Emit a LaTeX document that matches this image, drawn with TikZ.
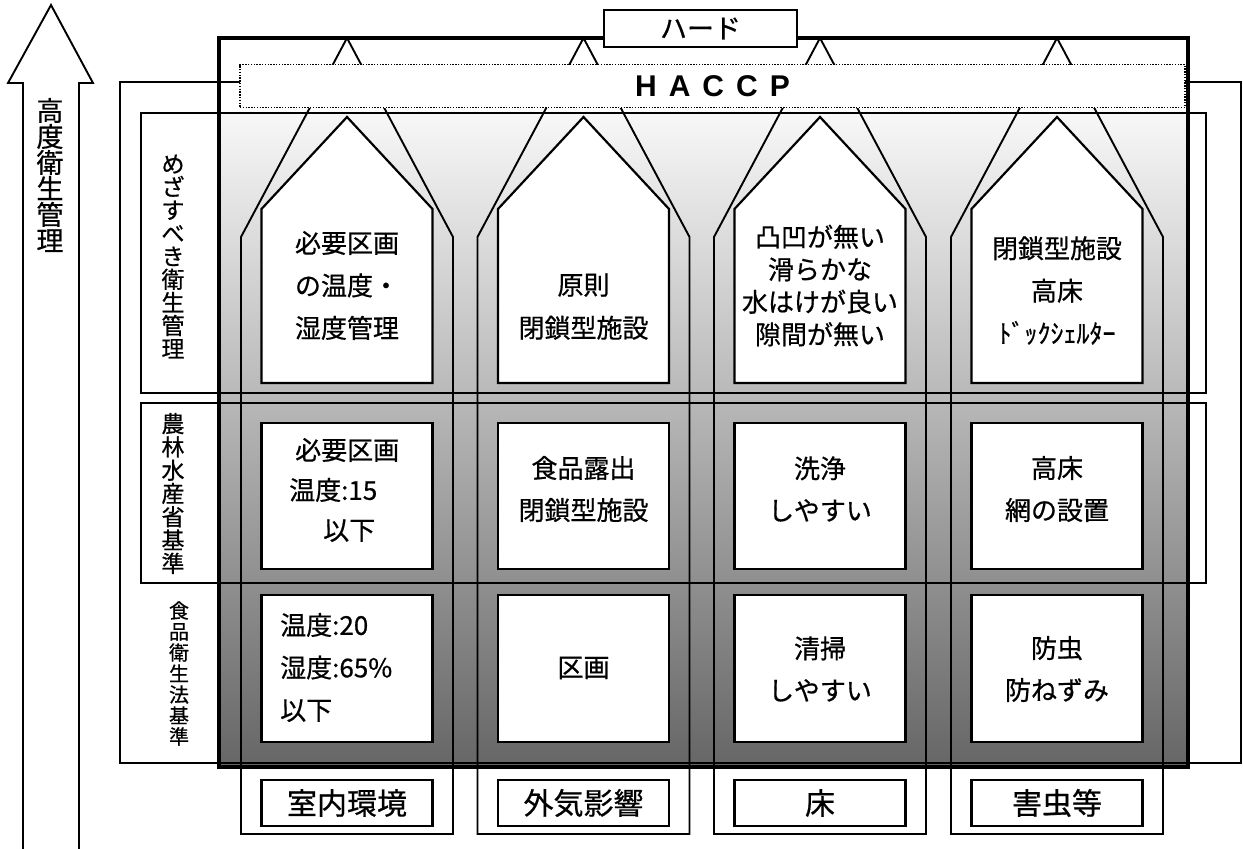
\documentclass[tikz,border=0pt]{standalone}
\usepackage{fontspec}
\newfontfamily\jp[FakeBold=0.6]{Noto Sans CJK JP}
\newfontfamily\hv{Liberation Sans}
\begin{document}
\begin{tikzpicture}[x=1pt,y=-1pt,
  lineA/.style={draw=black,line width=1.9pt},
  lineB/.style={draw=black,line width=2.2pt},
  boxtxt/.style={font=\jp\fontsize{26}{42.5}\selectfont,align=center,inner sep=0pt},
  labtxt/.style={font=\jp\fontsize{30}{36}\selectfont,inner sep=0pt},
  vtxt/.style={font=\jp\fontsize{23}{23.1}\selectfont,align=center,inner sep=0pt}]
\useasboundingbox (0,0) rectangle (1243,849);
% gradient
\fill[top color=black!3,bottom color=black!60] (219,113) rectangle (1188,767);
% outer box and row boxes
\draw[lineA] (120,82) rectangle (1241,763);
\draw[lineA] (141,113) rectangle (1206,393);
\draw[lineA] (141,403) rectangle (1206,583);
% column outlines
\foreach \cx in {347,583.5,820,1057}{
  \draw[lineA] (\cx-106,834) -- (\cx-106,237) -- (\cx,38) -- (\cx+106,237) -- (\cx+106,834) -- cycle;
}
% thick frame
\draw[line width=3.2pt] (219,38) rectangle (1188,767);
% HACCP
\node[draw,fill=white,line width=1.4pt,dash pattern=on 1.4pt off 1.4pt,minimum width=945,minimum height=43,inner sep=0pt,
  font=\hv\bfseries\fontsize{30}{30}\selectfont] (haccp) at (712.5,86) {H\hspace{12pt}A\hspace{12pt}C\hspace{12pt}C\hspace{12pt}P};
% Hard
\node[draw,fill=white,line width=1.8pt,minimum width=193,minimum height=37,inner sep=0pt,
  font=\jp\fontsize{27}{30}\selectfont] (hard) at (700.5,28.5) {ハード};
% inner shapes
\foreach \cx in {347,583.5,820,1057}{
  \draw[lineB,fill=white] (\cx-85.5,383) -- (\cx-85.5,209) -- (\cx,117) -- (\cx+85.5,209) -- (\cx+85.5,383) -- cycle;
  \draw[lineB,fill=white] (\cx-85.5,423) rectangle (\cx+85.5,569);
  \draw[lineB,fill=white] (\cx-85.5,595) rectangle (\cx+85.5,742);
  \draw[lineB,fill=white] (\cx-85.5,780) rectangle (\cx+85.5,826);
}
% row 1 texts
\node[boxtxt] (r1c1) at (347,285.5) {必要区画\\の温度・\\湿度管理};
\node[boxtxt,font=\jp\fontsize{26}{43}\selectfont] (r1c2) at (583.5,306.5) {原則\\閉鎖型施設};
\node[boxtxt,font=\jp\fontsize{26}{32.5}\selectfont] (r1c3) at (820,285.5) {凸凹が無い\\滑らかな\\水はけが良い\\隙間が無い};
\node[boxtxt] (r1c4) at (1057,290.5) {閉鎖型施設\\高床\\ﾄﾞｯｸｼｪﾙﾀｰ};
% row 2 texts
\node[boxtxt,font=\jp\fontsize{26}{40}\selectfont,align=left,anchor=west] (r2c1) at (289,490) {\hspace{6pt}必要区画\\温度:15\\\hspace{34pt}以下};
\node[boxtxt,font=\jp\fontsize{26}{42}\selectfont] (r2c2) at (583.5,489) {食品露出\\閉鎖型施設};
\node[boxtxt,font=\jp\fontsize{26}{42}\selectfont] (r2c3) at (820,489) {洗浄\\しやすい};
\node[boxtxt,font=\jp\fontsize{26}{42}\selectfont] (r2c4) at (1057,489) {高床\\網の設置};
% row 3 texts
\node[boxtxt,align=left,anchor=west] (r3c1) at (280,667.5) {温度:20\\湿度:65\%\\以下};
\node[boxtxt] (r3c2) at (583.5,668) {区画};
\node[boxtxt,font=\jp\fontsize{26}{42}\selectfont] (r3c3) at (820,669) {清掃\\しやすい};
\node[boxtxt,font=\jp\fontsize{26}{42}\selectfont] (r3c4) at (1057,669) {防虫\\防ねずみ};
% bottom labels
\node[labtxt] (l1) at (347,803) {室内環境};
\node[labtxt] (l2) at (583.5,803) {外気影響};
\node[labtxt] (l3) at (820,803) {床};
\node[labtxt] (l4) at (1057,803) {害虫等};
% row labels
\node[vtxt] (v1) at (173,256.5) {め\\ざ\\す\\べ\\き\\衛\\生\\管\\理};
\node[vtxt,font=\jp\fontsize{23}{23.3}\selectfont] (v2) at (173,493.5) {農\\林\\水\\産\\省\\基\\準};
\node[vtxt,font=\jp\fontsize{20}{21}\selectfont] (v3) at (179,673.5) {食\\品\\衛\\生\\法\\基\\準};
% arrow
\draw[lineA,line join=miter] (23,849) -- (23,83) -- (8,83) -- (51,5) -- (93,83) -- (79,83) -- (79,849);
\node[vtxt,font=\jp\fontsize{27}{26}\selectfont] (arrtxt) at (50,175) {高\\度\\衛\\生\\管\\理};
\end{tikzpicture}
\end{document}
